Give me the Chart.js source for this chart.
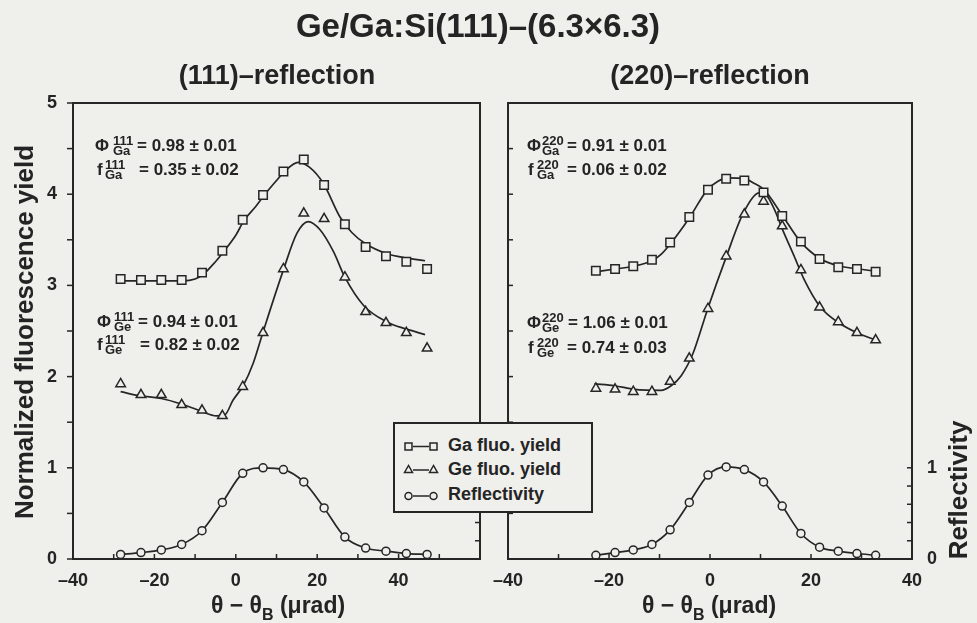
<!DOCTYPE html>
<html>
<head>
<meta charset="utf-8">
<title>Ge/Ga:Si(111) standing waves</title>
<script src="https://cdn.jsdelivr.net/npm/chart.js@4.4.1/dist/chart.umd.min.js"></script>
<style>
  html, body { margin: 0; padding: 0; }
  body {
    width: 977px; height: 623px; position: relative; overflow: hidden;
    background: #efefec; color: #242424;
    font-family: "Liberation Sans", Arial, sans-serif; font-weight: bold;
  }
  canvas { position: absolute; top: 0; }
  .txt { position: absolute; white-space: nowrap; }
  .rot { position: absolute; white-space: nowrap; text-align: center; transform: rotate(-90deg); }
  .sb { font-size: 16px; position: relative; top: 7px; }
  #legend {
    position: absolute; left: 393px; top: 422px; width: 200px; height: 91px;
    box-sizing: border-box; border: 2px solid #262626; background: #efefec;
  }
  #legend svg { position: absolute; left: 0; top: 0; }
  #legend .row { position: absolute; left: 53px; font-size: 18px; line-height: 18px; white-space: nowrap; }
</style>
</head>
<body>
<canvas id="chart111" width="490" height="623" style="left:0"></canvas>
<canvas id="chart220" width="487" height="623" style="left:490px"></canvas>

<div id="legend">
  <svg width="196" height="87" fill="#efefec" stroke="#262626" stroke-width="1.5">
    <rect x="10" y="19" width="7" height="7"/>
    <line x1="18" y1="22.5" x2="34" y2="22.5"/>
    <rect x="35" y="19" width="7" height="7"/>
    <polygon points="13.5,41.5 9.5,48.5 17.5,48.5"/>
    <line x1="18" y1="46" x2="34" y2="46"/>
    <polygon points="38.5,41.5 34.5,48.5 42.5,48.5"/>
    <circle cx="13.5" cy="72" r="3.5"/>
    <line x1="18" y1="72" x2="34" y2="72"/>
    <circle cx="38.5" cy="72" r="3.5"/>
  </svg>
  <div class="row" style="top:12px">Ga fluo. yield</div>
  <div class="row" style="top:36px">Ge fluo. yield</div>
  <div class="row" style="top:61px">Reflectivity</div>
</div>

<script>
// === DATA (111) ===
const theta111 = [-28.3, -23.3, -18.3, -13.3, -8.3, -3.3, 1.7, 6.7, 11.7, 16.7, 21.7, 26.8, 31.9, 36.9, 41.9, 47.0];
const ga111 = [3.07, 3.06, 3.06, 3.06, 3.14, 3.38, 3.72, 3.99, 4.25, 4.38, 4.10, 3.67, 3.42, 3.32, 3.26, 3.18];
const ge111 = [1.92, 1.80, 1.80, 1.69, 1.63, 1.57, 1.89, 2.48, 3.18, 3.79, 3.73, 3.09, 2.71, 2.59, 2.48, 2.31];
const refl111 = [0.05, 0.07, 0.10, 0.16, 0.31, 0.62, 0.94, 1.00, 0.98, 0.845, 0.56, 0.24, 0.12, 0.086, 0.06, 0.05];

// fit curves
const ga111FitX = [-28.3, -18, -13, -10, -8, -5, -3, 0, 2, 5, 7, 10, 12, 15.3, 18, 21.5, 25.6, 28.5, 31.8, 37, 42, 46.5];
const ga111FitY = [3.05, 3.05, 3.05, 3.07, 3.12, 3.26, 3.37, 3.55, 3.71, 3.87, 3.99, 4.15, 4.25, 4.35, 4.30, 4.12, 3.75, 3.58, 3.46, 3.35, 3.30, 3.27];
const ge111FitX = [-28.3, -23.6, -18.3, -13.4, -8.5, -4.8, -2.7, -0.7, 1.8, 4.3, 6.7, 11.7, 15, 17.8, 20.7, 24, 26.8, 31.4, 37.1, 42, 46.5];
const ge111FitY = [1.835, 1.79, 1.76, 1.70, 1.62, 1.57, 1.58, 1.74, 1.90, 2.15, 2.49, 3.17, 3.57, 3.70, 3.61, 3.37, 3.09, 2.78, 2.60, 2.52, 2.46];

// === DATA (220) ===
const theta220 = [-22.6, -18.8, -15.2, -11.5, -7.9, -4.1, -0.4, 3.2, 6.8, 10.6, 14.3, 18.0, 21.7, 25.4, 29.1, 32.8];
const ga220 = [3.16, 3.18, 3.21, 3.28, 3.47, 3.75, 4.05, 4.17, 4.15, 4.02, 3.76, 3.48, 3.29, 3.20, 3.18, 3.15];
const ge220 = [1.87, 1.86, 1.835, 1.835, 1.945, 2.20, 2.745, 3.32, 3.78, 3.92, 3.65, 3.17, 2.76, 2.60, 2.48, 2.40];
const refl220 = [0.04, 0.07, 0.10, 0.16, 0.32, 0.62, 0.92, 1.01, 0.98, 0.845, 0.58, 0.28, 0.13, 0.086, 0.06, 0.04];

const ga220FitX = [-22.6, -18.8, -15.2, -11.5, -9.7, -7.8, -4.1, -0.5, 1.5, 3.5, 6.8, 8.7, 10.7, 14.3, 17.9, 21.9, 25.8, 29.5, 32.8];
const ga220FitY = [3.15, 3.18, 3.21, 3.27, 3.34, 3.46, 3.74, 4.05, 4.14, 4.18, 4.17, 4.12, 4.05, 3.77, 3.48, 3.29, 3.21, 3.18, 3.155];
const ge220FitX = [-22.9, -18.9, -14.9, -9.7, -7.7, -5.7, -3.4, -0.45, 3.2, 6.4, 9.4, 10.5, 12.7, 14.3, 16.6, 18.6, 21.9, 25.5, 29.1, 32.8];
const ge220FitY = [1.92, 1.90, 1.86, 1.85, 1.90, 2.01, 2.25, 2.745, 3.31, 3.77, 4.01, 4.02, 3.84, 3.62, 3.33, 3.07, 2.76, 2.59, 2.48, 2.40];

// === AXES ===
const xLabels = [-40, -20, 0, 20, 40];
const yLabels = [0, 1, 2, 3, 4, 5];
const reflTicks = [0, 0.2, 0.4, 0.6, 0.8, 1.0];
const reflLabels = [0, 1];

// === TEXT ===
const titleText = 'Ge/Ga:Si(111)–(6.3×6.3)';
const panelTitles = ['(111)–reflection', '(220)–reflection'];
const yTitle = 'Normalized fluorescence yield';
const y2Title = 'Reflectivity';
const xTitle = 'θ − θ<span class="sb">B</span> (μrad)';
const notes111 = [
    ['Φ', '111', 'Ga', '= 0.98 ± 0.01'],
    ['f', '111', 'Ga', '= 0.35 ± 0.02'],
    ['Φ', '111', 'Ge', '= 0.94 ± 0.01'],
    ['f', '111', 'Ge', '= 0.82 ± 0.02']
];
const notes220 = [
    ['Φ', '220', 'Ga', '= 0.91 ± 0.01'],
    ['f', '220', 'Ga', '= 0.06 ± 0.02'],
    ['Φ', '220', 'Ge', '= 1.06 ± 0.01'],
    ['f', '220', 'Ge', '= 0.74 ± 0.03']
];

const INK = '#262626';
const BG = '#efefec';

Chart.defaults.font.family = '"Liberation Sans", Arial, sans-serif';
Chart.defaults.font.weight = 'bold';
Chart.defaults.font.size = 18;
Chart.defaults.color = '#242424';

// frame + tick marks, in or out
const frameTicks = {
    id: 'frameTicks',
    afterDatasetsDraw(chart, args, opts) {
        const { ctx, chartArea: a } = chart;
        ctx.save();
        ctx.strokeStyle = INK;
        ctx.lineWidth = 1.5;
        (opts.marks || []).forEach(m => {
            const sc = chart.scales[m.scale];
            sc.ticks.forEach(t => {
                const p = sc.getPixelForValue(t.value);
                ctx.beginPath();
                if (m.side === 'bottom') { ctx.moveTo(p, a.bottom); ctx.lineTo(p, a.bottom - m.len); }
                if (m.side === 'left') { ctx.moveTo(a.left, p); ctx.lineTo(a.left + m.len, p); }
                if (m.side === 'right') { ctx.moveTo(a.right, p); ctx.lineTo(a.right - m.len, p); }
                ctx.stroke();
            });
        });
        ctx.lineWidth = 2;
        ctx.strokeRect(a.left, a.top, a.right - a.left, a.bottom - a.top);
        ctx.restore();
    }
};

function pts(xs, ys) {
    return xs.map((x, i) => ({ x, y: ys[i] }));
}

function markerSet(label, xs, ys, style, r) {
    return {
        label, data: pts(xs, ys), showLine: false,
        pointStyle: style, pointRadius: r, pointBorderWidth: 1.5,
        pointBorderColor: INK, pointBackgroundColor: BG
    };
}

function fitSet(label, xs, ys) {
    return {
        label, data: pts(xs, ys), showLine: true, pointRadius: 0,
        borderColor: INK, borderWidth: 1.7, cubicInterpolationMode: 'monotone'
    };
}

function dash(v) {
    return v < 0 ? '–' + Math.abs(v) : String(v);
}

function makePanel(id, p) {
    const reflSet = markerSet('Reflectivity', p.theta, p.refl, 'circle', 4);
    reflSet.showLine = true;
    reflSet.borderColor = INK;
    reflSet.borderWidth = 1.7;
    reflSet.cubicInterpolationMode = 'monotone';

    return new Chart(document.getElementById(id), {
        type: 'scatter',
        data: {
            datasets: [
                markerSet('Ga fluo. yield', p.theta, p.ga, 'rect', 6),
                markerSet('Ge fluo. yield', p.theta, p.ge, 'triangle', 5.5),
                reflSet,
                fitSet('Ga fit', p.gaFitX, p.gaFitY),
                fitSet('Ge fit', p.geFitX, p.geFitY)
            ]
        },
        options: {
            responsive: false,
            animation: false,
            events: [],
            layout: { padding: { top: 103, bottom: 34, left: 0, right: 0 } },
            scales: {
                x: {
                    type: 'linear', min: -40, max: p.xMax,
                    afterFit: sc => { sc.height = 30; },
                    grid: { display: false }, border: { display: false },
                    ticks: {
                        stepSize: 10, autoSkip: false, maxRotation: 0, padding: 3,
                        callback: v => xLabels.includes(v) ? dash(v) : ''
                    }
                },
                y: {
                    type: 'linear', min: 0, max: 5, position: 'left',
                    afterFit: sc => { sc.width = p.yWidth; },
                    grid: { display: false }, border: { display: false },
                    ticks: {
                        display: p.yLabels, stepSize: 0.5, padding: 8,
                        callback: v => yLabels.includes(v) ? v : ''
                    }
                },
                y2: {
                    type: 'linear', min: 0, max: 5, position: 'right',
                    afterFit: sc => { sc.width = p.y2Width; },
                    afterBuildTicks: sc => { sc.ticks = reflTicks.map(v => ({ value: v })); },
                    grid: { display: false }, border: { display: false },
                    ticks: {
                        display: p.y2Labels, padding: 7,
                        callback: v => reflLabels.includes(v) ? v : ''
                    }
                }
            },
            plugins: {
                legend: { display: false },
                tooltip: { enabled: false },
                frameTicks: {
                    marks: [
                        { scale: 'x', side: 'bottom', len: 5 },
                        { scale: 'y', side: 'left', len: p.yTickLen },
                        { scale: 'y2', side: 'right', len: 5 }
                    ]
                }
            }
        },
        plugins: [frameTicks]
    });
}

// === TEXT HELPERS ===
function addText(html, left, baseline, size, center) {
    const el = document.createElement('div');
    el.className = 'txt';
    el.style.fontSize = size + 'px';
    el.style.lineHeight = size + 'px';
    el.style.left = left + 'px';
    el.style.top = (baseline - 0.8465 * size) + 'px';
    if (center) el.style.transform = 'translateX(-50%)';
    el.innerHTML = html;
    document.body.appendChild(el);
    return el;
}

function addRot(text, cx, cy, size) {
    const w = 420;
    const el = document.createElement('div');
    el.className = 'rot';
    el.style.fontSize = size + 'px';
    el.style.lineHeight = size + 'px';
    el.style.width = w + 'px';
    el.style.left = (cx - w / 2) + 'px';
    el.style.top = (cy - size / 2) + 'px';
    el.textContent = text;
    document.body.appendChild(el);
}

function addNotes(list, pos) {
    list.forEach((n, i) => {
        const q = pos[i];
        addText(n[0], q[0], q[1], 17);
        addText(n[1], q[2], q[1] - 6, 13);
        addText(n[2], q[2], q[1] + 4, 13);
        addText(n[3], q[3], q[1], 17);
    });
}

document.addEventListener('DOMContentLoaded', () => {
    makePanel('chart111', {
        theta: theta111, ga: ga111, ge: ge111, refl: refl111,
        gaFitX: ga111FitX, gaFitY: ga111FitY, geFitX: ge111FitX, geFitY: ge111FitY,
        xMax: 60, yWidth: 73, y2Width: 10, yLabels: true, y2Labels: false, yTickLen: -6
    });
    makePanel('chart220', {
        theta: theta220, ga: ga220, ge: ge220, refl: refl220,
        gaFitX: ga220FitX, gaFitY: ga220FitY, geFitX: ge220FitX, geFitY: ge220FitY,
        xMax: 40, yWidth: 17, y2Width: 65, yLabels: false, y2Labels: true, yTickLen: 5
    });

    addText(titleText, 478, 37, 33, true);
    addText(panelTitles[0], 277, 85, 27, true);
    addText(panelTitles[1], 710, 85, 27, true);
    addText(xTitle, 278, 613, 23, true);
    addText(xTitle, 709, 613, 23, true);
    addRot(yTitle, 24, 332, 26);
    addRot(y2Title, 958, 490, 26);

    // [symbol x, baseline, sup/sub x, value x]
    addNotes(notes111, [[95, 151, 113, 137], [97, 175, 105, 139], [97, 327, 114, 138], [97, 350, 105, 140]]);
    addNotes(notes220, [[527, 151, 542, 567], [528, 175, 537, 567], [527, 328, 542, 568], [528, 353, 537, 567]]);

    // legend above the canvases
    document.body.appendChild(document.getElementById('legend'));
});
</script>
</body>
</html>
